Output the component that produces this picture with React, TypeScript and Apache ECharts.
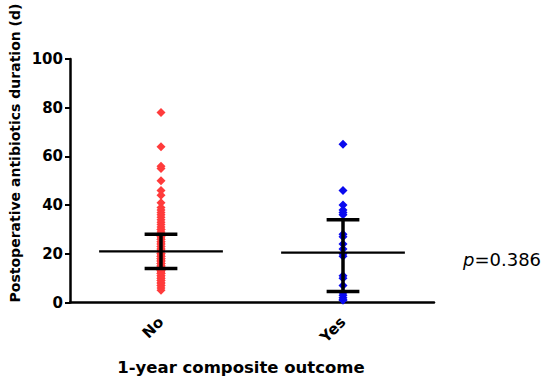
import React, { useEffect, useRef } from "react";
import * as echarts from "echarts";

const categories = ["No", "Yes"];
const yTicks = [0, 20, 40, 60, 80, 100];

const noValues = [
  78, 64, 56, 55, 50, 46, 44, 41, 39, 38, 37, 36, 35, 34, 33, 32, 31, 30, 30, 29, 28, 28, 27, 27,
  26, 26, 25, 25, 24, 24, 23, 23, 22, 22, 21, 21, 21, 20, 20, 20, 19, 19, 19, 18, 18, 18, 17, 17,
  17, 16, 16, 16, 15, 15, 15, 14, 14, 14, 13, 13, 13, 12, 12, 12, 11, 11, 10, 10, 9, 9, 8, 8, 7,
  7, 6, 5,
];
const yesValues = [65, 46, 40, 38, 37, 36, 28, 27, 24, 22, 20, 19, 11, 10, 7, 4, 3, 2, 1, 1];

const centerValues = [21, 20.5];
const lowerValues = [14, 4.5];
const upperValues = [28, 34];

const pText = "0.386";

export default function App() {
  const ref = useRef<HTMLDivElement>(null);
  useEffect(() => {
    if (!ref.current) return;
    document.body.style.margin = "0";
    const chart = echarts.init(ref.current, undefined, { renderer: "svg" });
    const font = "DejaVu Sans";
    const summary = categories.map((c, i) => [i, centerValues[i], lowerValues[i], upperValues[i]]);
    chart.setOption({
      animation: false,
      grid: { left: 70, right: 116, top: 59, bottom: 78.5 },
      xAxis: {
        type: "category",
        data: categories,
        boundaryGap: true,
        axisLine: { lineStyle: { color: "#000", width: 2.5 } },
        axisTick: { alignWithLabel: true, length: 5, lineStyle: { color: "#000", width: 2.5 } },
        axisLabel: {
          rotate: 45,
          margin: 17,
          color: "#000",
          fontFamily: font,
          fontWeight: "bold",
          fontSize: 15,
        },
      },
      yAxis: {
        type: "value",
        min: yTicks[0],
        max: yTicks[yTicks.length - 1],
        interval: 20,
        splitLine: { show: false },
        axisLine: { show: true, lineStyle: { color: "#000", width: 2.5 } },
        axisTick: { show: true, length: 5, lineStyle: { color: "#000", width: 2 } },
        axisLabel: {
          margin: 7,
          color: "#000",
          fontFamily: font,
          fontWeight: "bold",
          fontSize: 15,
        },
      },
      series: [
        {
          type: "scatter",
          symbol: "diamond",
          symbolSize: [9, 9],
          itemStyle: { color: "#ff3b3b", opacity: 1 },
          data: noValues.map((v) => [0, v]),
          z: 2,
        },
        {
          type: "scatter",
          symbol: "diamond",
          symbolSize: [9, 9],
          itemStyle: { color: "#0a0aee", opacity: 1 },
          data: yesValues.map((v) => [1, v]),
          z: 2,
        },
        {
          type: "custom",
          z: 5,
          data: summary,
          renderItem: (params: any, api: any) => {
            const idx = api.value(0);
            const c = api.coord([idx, api.value(1)]);
            const lo = api.coord([idx, api.value(2)]);
            const hi = api.coord([idx, api.value(3)]);
            const band = api.size([1, 0])[0];
            const hw = band * 0.34;
            const cw = band * 0.09;
            const st = { stroke: "#000", lineWidth: 2.2 };
            const st2 = { stroke: "#000", lineWidth: 3.5 };
            return {
              type: "group",
              children: [
                { type: "line", shape: { x1: c[0] - hw, y1: c[1], x2: c[0] + hw, y2: c[1] }, style: st },
                { type: "line", shape: { x1: lo[0], y1: lo[1], x2: hi[0], y2: hi[1] }, style: st2 },
                { type: "line", shape: { x1: lo[0] - cw, y1: lo[1], x2: lo[0] + cw, y2: lo[1] }, style: st2 },
                { type: "line", shape: { x1: hi[0] - cw, y1: hi[1], x2: hi[0] + cw, y2: hi[1] }, style: st2 },
              ],
            };
          },
        },
      ],
      graphic: [
        {
          type: "text",
          x: 15,
          y: 153,
          rotation: Math.PI / 2,
          style: {
            text: "Postoperative antibiotics duration (d)",
            font: `bold 14px "${font}"`,
            fill: "#000",
            textAlign: "center",
            textVerticalAlign: "middle",
          },
        },
        {
          type: "text",
          x: 241,
          y: 367,
          style: {
            text: "1-year composite outcome",
            font: `bold 16.5px "${font}"`,
            fill: "#000",
            textAlign: "center",
            textVerticalAlign: "middle",
          },
        },
        {
          type: "text",
          x: 463,
          y: 259,
          style: {
            text: "{i|p}{n|=" + pText + "}",
            fill: "#000",
            textVerticalAlign: "middle",
            rich: {
              i: { fontFamily: font, fontSize: 18, fontStyle: "italic", fill: "#000" },
              n: { fontFamily: font, fontSize: 18, fill: "#000" },
            },
          },
        },
      ],
    });
    return () => chart.dispose();
  }, []);
  return <div ref={ref} style={{ width: 550, height: 381 }} />;
}
